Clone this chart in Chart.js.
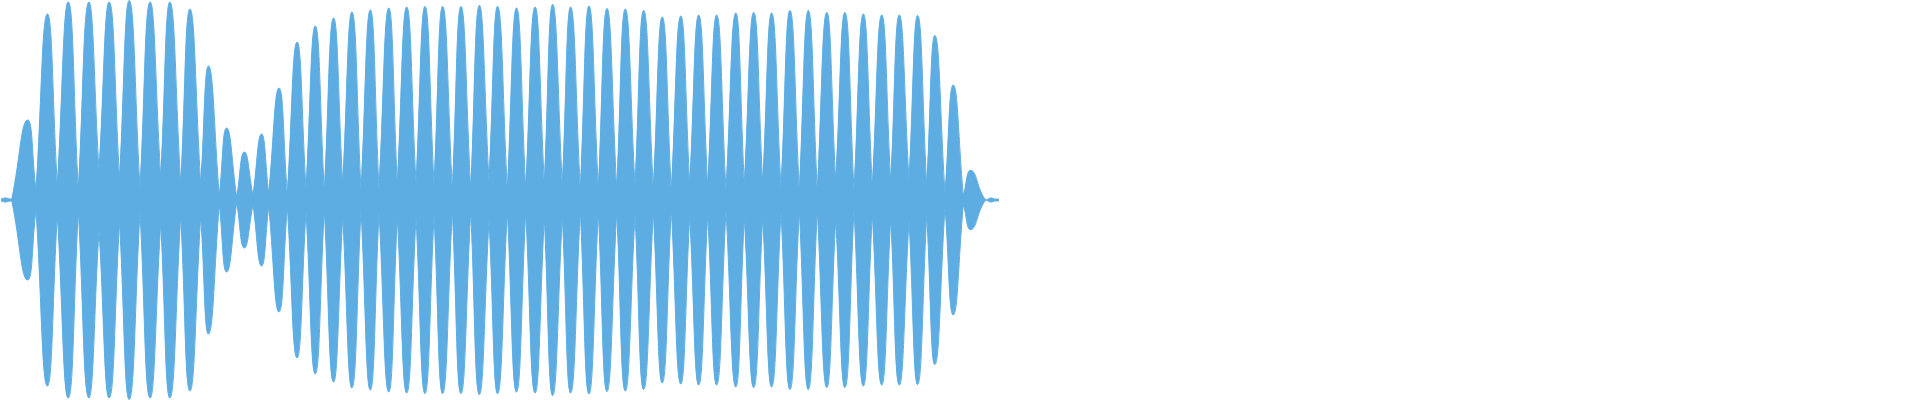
<!DOCTYPE html>
<html>
<head>
<meta charset="utf-8">
<script src="https://cdn.jsdelivr.net/npm/chart.js@4/dist/chart.umd.min.js"></script>
<style>
  html, body { margin: 0; padding: 0; background: #fff; }
  #wrap { width: 1920px; height: 400px; position: relative; }
</style>
</head>
<body>
<div id="wrap"><canvas id="onda"></canvas></div>
<script>
// tiempos (ms) y amplitudes
const leadT   = [1, 5, 8, 11];
const leadAmp = [0.005, 0.01, 0.008, 0.005];

// picos de cada lobulo
const picoT = [27.3, 47.3, 68.3, 88.7, 109.3, 129.3, 150, 170, 190, 208.7,
  226.7, 244.3, 261.5, 279, 297, 315.3, 333.5, 352, 370.3, 388.7,
  406.7, 425, 442.7, 461, 479.3, 497.7, 516.5, 535, 552.7, 570.7,
  589, 607, 625.3, 643.7, 662.3, 680.7, 698.7, 716.7, 735.7, 753.7,
  771.7, 790, 808.3, 826.7, 845, 863.3, 881.7, 899.3, 917.7, 935,
  953.3, 971];
const picoAmp = [0.40, 0.93, 0.99, 0.99, 0.99, 0.998, 0.99, 0.99, 0.955, 0.67,
  0.36, 0.24, 0.33, 0.56, 0.79, 0.87, 0.91, 0.94, 0.95, 0.96,
  0.965, 0.968, 0.968, 0.968, 0.973, 0.968, 0.96, 0.965, 0.978, 0.965,
  0.97, 0.958, 0.955, 0.948, 0.915, 0.92, 0.925, 0.925, 0.935, 0.938,
  0.935, 0.948, 0.948, 0.938, 0.938, 0.93, 0.925, 0.925, 0.923, 0.823,
  0.575, 0.148];

// limites entre lobulos (valles), incluye inicio y final
const valleT = [12, 36, 57.3, 78.3, 99, 119.5, 140, 160.7, 180.7, 200.7,
  219.3, 236.7, 253, 268.7, 287.3, 306, 324.3, 342.7, 361, 379,
  397.3, 416, 434, 452.3, 470.7, 489, 507.3, 525.7, 544.3, 562.3,
  580.3, 598.3, 616.7, 635, 653.3, 671.3, 689.7, 707.7, 726, 744.3,
  762.7, 781, 799.3, 817.3, 835.7, 854, 872.3, 890.7, 909, 926.7,
  945, 963.3, 985];
const valleAmp = [0.01, 0.048, 0.073, 0.053, 0.15, 0.11, 0.06, 0.115, 0.08, 0.08,
  0.023, 0.013, 0.023, 0.033, 0.033, 0.058, 0.048, 0.083, 0.048, 0.058,
  0.083, 0.083, 0.078, 0.053, 0.053, 0.098, 0.053, 0.058, 0.088, 0.078,
  0.053, 0.058, 0.058, 0.073, 0.058, 0.043, 0.078, 0.068, 0.048, 0.083,
  0.083, 0.058, 0.048, 0.048, 0.093, 0.048, 0.068, 0.088, 0.10, 0.073,
  0.033, 0.023, 0.005];

const colaT   = [991, 995, 999];
const colaAmp = [0.01, 0.005, 0.005];

const color = '#5DADE2';

// armar puntos: cada lobulo es valle -> pico -> valle (el valle se repite para dejar la punta en V)
function puntos(signo){
    const pts = [];
    leadT.forEach((t,i)=> pts.push({x:t, y:signo*leadAmp[i]}));
    picoT.forEach((t,i)=>{
        pts.push({x:valleT[i], y:signo*valleAmp[i]});
        pts.push({x:t, y:signo*picoAmp[i]});
        pts.push({x:valleT[i+1], y:signo*valleAmp[i+1]});
    });
    colaT.forEach((t,i)=> pts.push({x:t, y:signo*colaAmp[i]}));
    return pts;
}

const ctx = document.getElementById("onda").getContext("2d");
new Chart(ctx,{
    type:'line',
    data:{
        datasets:[
            {data:puntos(1), borderColor:color, backgroundColor:color, fill:'origin'},
            {data:puntos(-1), borderColor:color, backgroundColor:color, fill:'origin'}
        ]
    },
    options:{
        responsive:true,
        maintainAspectRatio:false,
        animation:false,
        parsing:false,
        layout:{padding:0},
        elements:{
            line:{borderWidth:1, tension:0.5},
            point:{radius:0, hoverRadius:0}
        },
        plugins:{legend:{display:false}, tooltip:{enabled:false}},
        scales:{
            x:{type:'linear', min:0, max:1920, display:false},
            y:{min:-1, max:1, display:false}
        }
    }
});
</script>
</body>
</html>
